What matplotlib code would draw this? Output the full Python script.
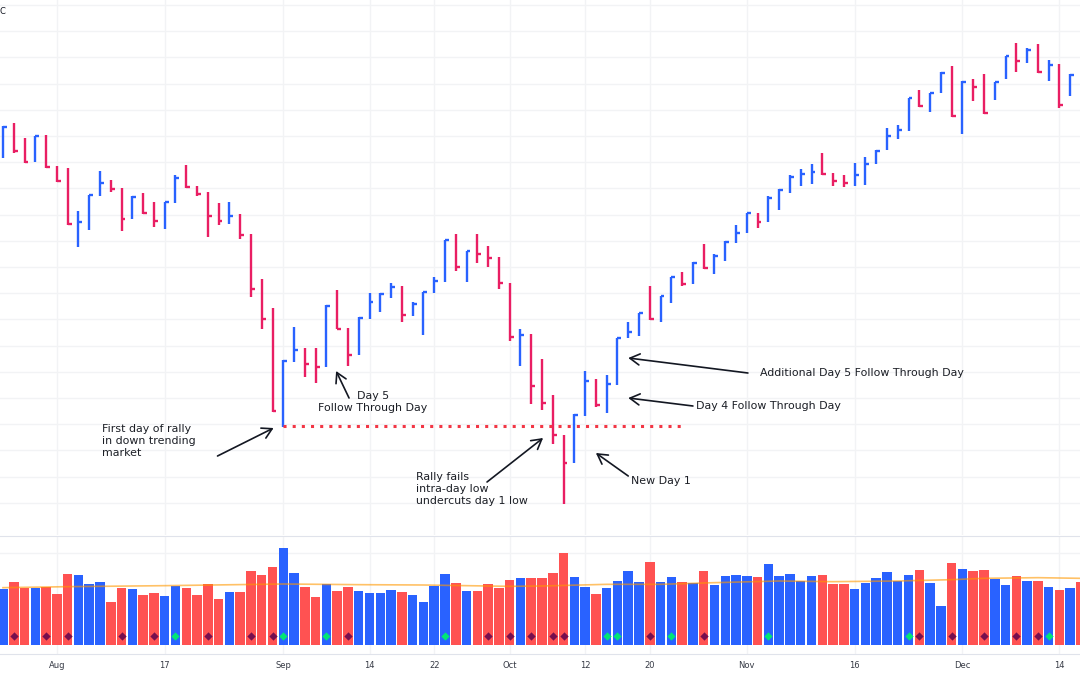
import matplotlib
matplotlib.use('Agg')
import matplotlib.pyplot as plt

highs = [474,477,462,464,465,434,432,389,405,429,
         420,412,404,407,398,398,425,435,414,408,
         397,398,386,366,321,292,240,273,252,252,
         295,310,272,283,307,307,317,314,298,308,
         323,360,366,349,366,354,343,317,271,266,
         241,205,165,186,229,221,225,262,278,287,
         314,304,323,328,338,356,346,359,375,387,
         387,404,411,425,431,436,447,427,425,437,
         443,450,472,475,502,510,507,528,534,519,
         521,526,518,544,557,552,556,540,536,526]
lows = [442,447,437,438,432,418,375,353,370,404,
        408,369,381,386,373,371,397,412,404,363,
        375,376,361,303,271,188,173,238,223,217,
        233,271,234,245,281,288,302,278,284,265,
        307,318,329,318,337,333,311,259,234,196,
        190,156,96,137,184,193,187,215,262,264,
        280,278,297,314,316,331,326,339,357,367,
        372,378,390,407,414,416,425,414,413,414,
        415,436,450,461,469,493,488,507,483,466,
        499,486,500,521,528,537,527,519,492,504]
closes = [473,449,438,464,433,419,376,378,405,417,
          411,381,403,387,379,398,422,413,406,384,
          379,384,365,311,281,189,239,250,236,233,
          294,271,245,282,298,306,313,285,296,308,
          319,360,333,349,346,342,317,263,265,214,
          197,165,137,185,219,195,216,262,268,287,
          281,304,323,316,337,332,344,358,367,387,
          378,402,410,423,426,428,426,419,417,425,
          436,449,464,470,502,494,507,527,484,518,
          513,487,518,544,539,550,528,535,495,525]
volumes = [166,187,171,170,172,152,212,210,181,187,
           128,170,166,148,154,146,175,170,150,181,
           137,159,159,221,210,232,289,216,174,143,
           181,161,172,161,155,155,163,157,150,128,
           175,212,185,161,161,181,170,194,201,201,
           201,214,274,203,174,152,170,192,221,189,
           247,187,203,187,184,221,179,206,210,206,
           203,241,206,212,192,206,210,181,181,168,
           184,201,219,192,210,223,184,117,244,227,
           221,223,197,179,206,192,192,174,165,170,187]
ma_idx = [0,6,15,26,33,39,47,50,56,61,66,72,77,83,88,91,96,100]
ma_vals = [171,174,177,182,180,179,175,176,181,181,186,191,189,191,195,199,201,199]

dark_days = [1,4,6,11,14,19,23,25,32,45,47,49,51,52,60,65,85,88,91,94,96]
green_days = [16,26,30,41,56,57,62,71,84,97]

tick_idx = [5,15,26,34,40,47,54,60,69,79,89,98]
tick_labels = ['Aug','17','Sep','14','22','Oct','12','20','Nov','16','Dec','14']

BLUE = '#2962ff'
PINK = '#e91e63'
RED = '#ff5252'
GRID = '#f2f3f5'
LINE = '#e0e3eb'

up = [True] + [closes[i] > closes[i-1] for i in range(1, len(closes))]
xs = list(range(len(closes)))

fig = plt.figure(figsize=(10.8, 6.75), dpi=100, facecolor='white')
ax = fig.add_axes([0, 140/675, 1, 535/675])
vol = fig.add_axes([0, 21/675, 1, 118/675])

# x: bar 0 sits at 3px, 10.78px per bar
xlim = (-3/10.78, 1077/10.78)
ax.set_xlim(xlim)
ax.set_ylim(65, 600)
vol.set_xlim(xlim)
vol.set_ylim(-28, 326)

for a in (ax, vol):
    a.set_xticks(tick_idx)
    a.grid(True, color=GRID, lw=1)
    a.set_axisbelow(True)
    a.tick_params(length=0)
ax.set_yticks([595 - 26.2*k for k in range(20)])
ax.set_xticklabels([])
ax.set_yticklabels([])
vol.set_yticks([274])
vol.set_yticklabels([])
vol.set_xticklabels(tick_labels, fontsize=6, color='#363a45')
vol.tick_params(axis='x', pad=5)

for s in ax.spines.values():
    s.set_visible(False)
for s in ('left', 'right'):
    vol.spines[s].set_visible(False)
vol.spines['top'].set_color(LINE)
vol.spines['bottom'].set_color(LINE)

colors = [BLUE if u else PINK for u in up]
ax.vlines(xs, lows, highs, colors=colors, lw=1.7)
ax.hlines(closes, xs, [x + 0.36 for x in xs], colors=colors, lw=1.7)

vol_colors = [BLUE if u else RED for u in up] + [RED]
vol.bar(range(len(volumes)), volumes, width=0.88, color=vol_colors, lw=0)
vol.plot(ma_idx, ma_vals, color='#ff9800', lw=1.2, alpha=0.6)
vol.scatter(dark_days, [26]*len(dark_days), marker='D', s=18, color='#770f4f', lw=0, zorder=3)
vol.scatter(green_days, [26]*len(green_days), marker='D', s=18, color='#00e676', lw=0, zorder=3)

# rally low level
ax.plot([26, 63.1], [174, 174], color='#f23645', lw=2.2, ls=(0, (1, 2)), dash_capstyle='butt')

notes = [
    ('First day of rally\nin down trending\nmarket', (9.2, 159), 'left', (19.9, 144), (25.1, 172)),
    ('Day 5\nFollow Through Day', (34.3, 198), 'center', (32.1, 202), (30.9, 229)),
    ('Rally fails\nintra-day low\nundercuts day 1 low', (38.3, 111), 'left', (44.9, 118), (50.1, 162)),
    ('New Day 1', (58.3, 119), 'left', (58, 124), (55, 147)),
    ('Day 4 Follow Through Day', (64.3, 194), 'left', (64, 194), (58, 202)),
    ('Additional Day 5 Follow Through Day', (70.2, 227), 'left', (69.1, 227), (58, 242)),
]
for txt, pos, ha, tail, head in notes:
    ax.text(pos[0], pos[1], txt, ha=ha, va='center', fontsize=7.9, color='#1c1f26', linespacing=1.25)
    ax.annotate('', xy=head, xytext=tail,
                arrowprops=dict(arrowstyle='->,head_length=0.7,head_width=0.4', color='#131722', lw=1.2,
                                shrinkA=0, shrinkB=0))

fig.text(0, 1 - 12/675, 'C', fontsize=6, color='#131722', va='center')

plt.savefig('out.png', dpi=100)
